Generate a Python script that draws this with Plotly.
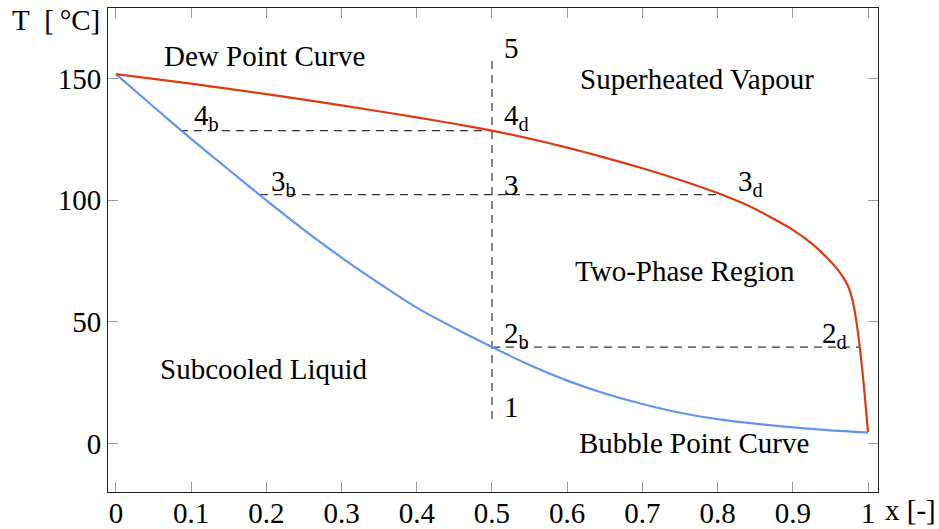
import plotly.graph_objects as go

# Dew point curve (red)
dew_x = [0, 0.1, 0.2, 0.3, 0.4, 0.45, 0.5, 0.55, 0.6, 0.65, 0.7, 0.75, 0.8, 0.85, 0.9,
         0.925, 0.95, 0.96, 0.97, 0.975, 0.98, 0.985, 0.99, 0.995, 1.0]
dew_T = [151.8, 147.9, 143.6, 139.0, 134.0, 131.4, 128.6, 125.3, 121.6, 117.5, 113.1, 108.3, 102.9, 96.4, 87.8,
         82.2, 74.9, 71.3, 66.7, 63.5, 58.1, 49.1, 37.1, 22.1, 4.6]

# Bubble point curve (blue)
bub_x = [0, 0.05, 0.1, 0.15, 0.2, 0.25, 0.3, 0.35, 0.4, 0.45, 0.5, 0.55, 0.6, 0.65, 0.7, 0.75, 0.8, 0.85, 0.9, 0.95, 1.0]
bub_T = [151.8, 138.4, 125.2, 112.5, 99.9, 87.8, 76.4, 65.8, 55.8, 47.4, 39.6, 32.2, 25.8, 20.5, 16.2, 12.6, 10, 8.1, 6.6, 5.3, 4.4]

# Dashed state lines: (x0, x1, T0, T1)
dash_x0 = [0.085, 0.1915, 0.5, 0.5]
dash_x1 = [0.5, 0.8076, 0.989, 0.5]
dash_T0 = [128.6, 102.3, 39.6, 10]
dash_T1 = [128.6, 102.3, 39.6, 158]

# Point labels
pt_text = ["5", "4<sub>d</sub>", "3", "2<sub>b</sub>", "1", "4<sub>b</sub>", "3<sub>b</sub>", "3<sub>d</sub>", "2<sub>d</sub>"]
pt_x = [0.513, 0.513, 0.513, 0.513, 0.513, 0.101, 0.2035, 0.8245, 0.936]
pt_T = [162.7, 134, 106.4, 44.4, 14.8, 134, 107.2, 107.2, 44.4]

# Region labels
reg_text = ["Dew Point Curve", "Superheated Vapour", "Two-Phase Region", "Subcooled Liquid", "Bubble Point Curve"]
reg_x = [0.197, 0.772, 0.757, 0.197, 0.768]
reg_T = [159.4, 150, 70.7, 30.4, 0]

x_ticks = [0, 0.1, 0.2, 0.3, 0.4, 0.5, 0.6, 0.7, 0.8, 0.9, 1]
x_ticklabels = ["0", "0.1", "0.2", "0.3", "0.4", "0.5", "0.6", "0.7", "0.8", "0.9", "1"]
y_ticks = [0, 50, 100, 150]

FONT = "Liberation Serif, Times New Roman, serif"
FS = 29

fig = go.Figure()

for x0, x1, t0, t1 in zip(dash_x0, dash_x1, dash_T0, dash_T1):
    fig.add_trace(go.Scatter(x=[x0, x1], y=[t0, t1], mode="lines",
                             line=dict(color="#333333", width=1.2, dash="8px,6px"),
                             hoverinfo="skip", showlegend=False))

fig.add_trace(go.Scatter(x=bub_x, y=bub_T, mode="lines",
                         line=dict(color="#6495ED", width=2.2, shape="spline", smoothing=0.6),
                         showlegend=False))
fig.add_trace(go.Scatter(x=dew_x, y=dew_T, mode="lines",
                         line=dict(color="#DD3A12", width=2.2, shape="spline", smoothing=0.5),
                         showlegend=False))

for t, x, y in zip(pt_text, pt_x, pt_T):
    fig.add_annotation(x=x, y=y, text=t, showarrow=False, xanchor="left", yanchor="middle",
                       font=dict(family=FONT, size=FS, color="black"))
for t, x, y in zip(reg_text, reg_x, reg_T):
    fig.add_annotation(x=x, y=y, text=t, showarrow=False, xanchor="center", yanchor="middle",
                       font=dict(family=FONT, size=FS, color="black"))

fig.add_annotation(xref="paper", yref="paper", x=-0.0669, y=0.975, text="T\u2002[\u2009°C]", showarrow=False,
                   xanchor="center", yanchor="middle", font=dict(family=FONT, size=FS, color="black"))
fig.add_annotation(xref="paper", yref="paper", x=1.0416, y=-0.038, text="x [-]", showarrow=False,
                   xanchor="center", yanchor="middle", font=dict(family=FONT, size=FS, color="black"))

axis_common = dict(showgrid=False, zeroline=False, showline=True, linecolor="#222222", linewidth=1,
                   mirror="allticks", ticks="inside", ticklen=10, tickcolor="#999999", tickwidth=1,
                   automargin=False,
                   tickfont=dict(family=FONT, size=FS, color="black"))

fig.update_xaxes(range=[-0.0106, 1.0133], tickvals=x_ticks, ticktext=x_ticklabels,
                 ticklabelstandoff=-5, **axis_common)
fig.update_yaxes(range=[-20, 179], tickvals=y_ticks, **axis_common)

fig.update_layout(width=939, height=529, margin=dict(l=108, r=61, t=8, b=37),
                  plot_bgcolor="white", paper_bgcolor="white", showlegend=False,
                  font=dict(family=FONT, size=FS, color="black"))

fig.write_html("out.html")
